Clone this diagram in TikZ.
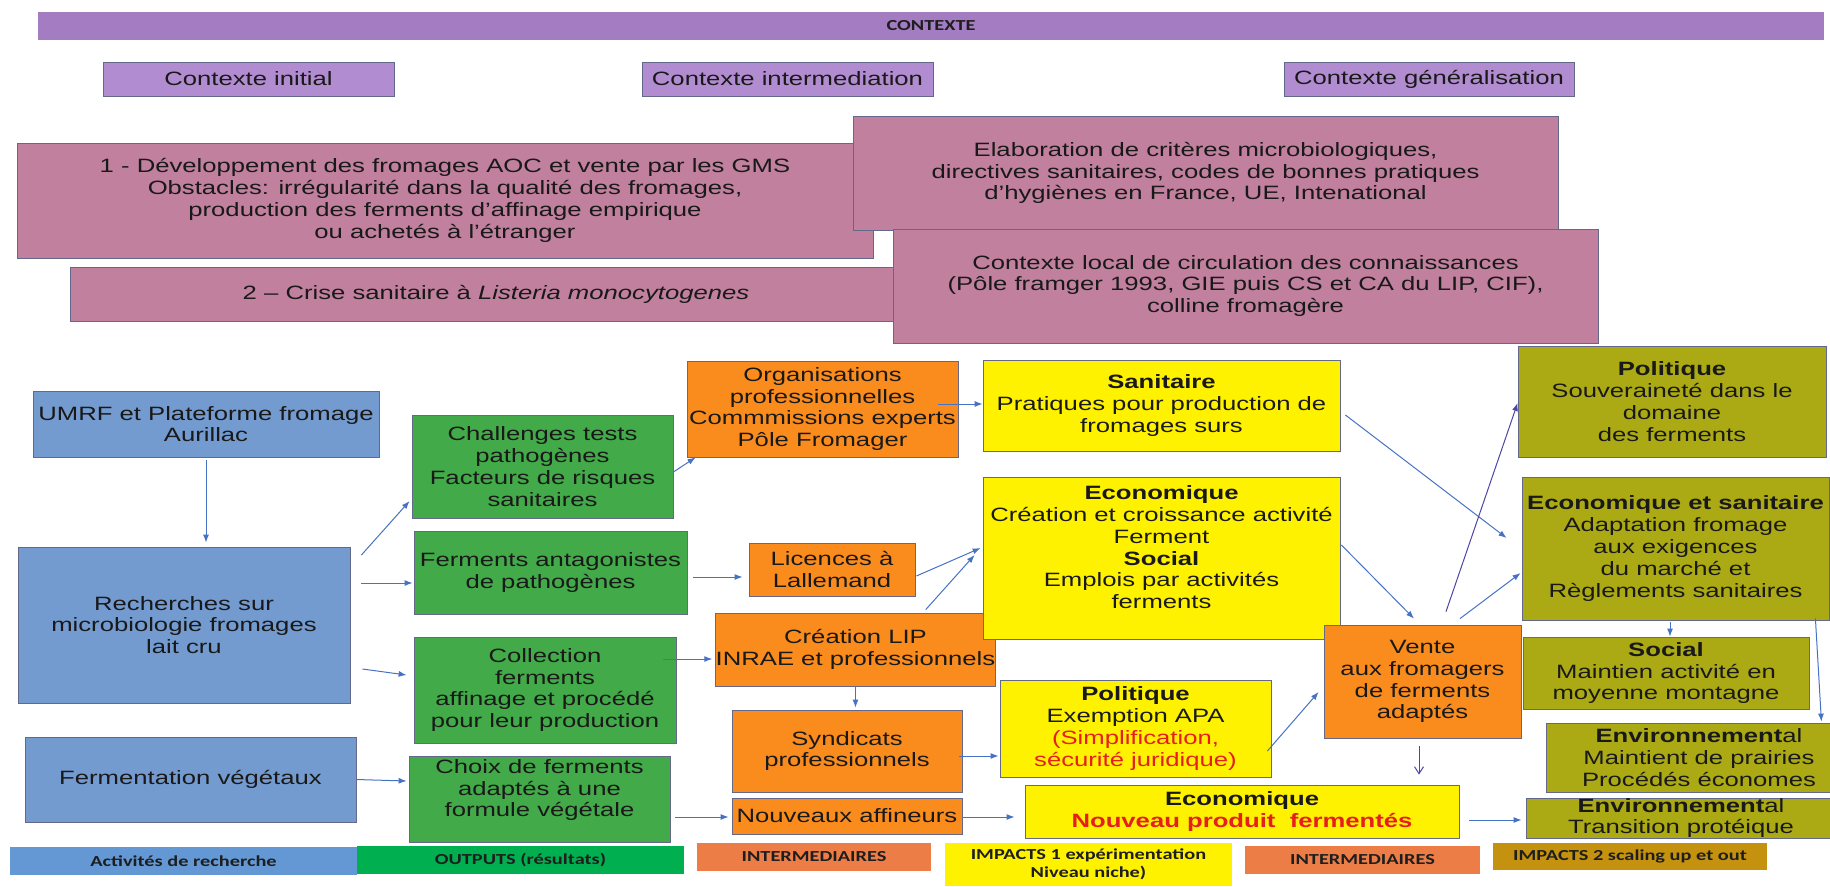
\documentclass[tikz,border=0pt]{standalone}
\usepackage{fontspec}
\setmainfont{Liberation Sans}[FakeStretch=1.33]
\newfontfamily\legfont{Carlito}[FakeStretch=1.33]
\usetikzlibrary{arrows.meta}

\definecolor{barviolet}{RGB}{163,124,194}
\definecolor{ctxviolet}{RGB}{178,140,208}
\definecolor{ctxpink}{RGB}{192,128,158}
\definecolor{boxline}{RGB}{100,105,140}
\definecolor{rechblue}{RGB}{115,155,208}
\definecolor{outgreen}{RGB}{66,170,72}
\definecolor{intorange}{RGB}{250,140,30}
\definecolor{impolive}{RGB}{171,170,20}
\definecolor{legblue}{RGB}{100,152,212}
\definecolor{leggreen}{RGB}{0,176,80}
\definecolor{legorange}{RGB}{237,125,70}
\definecolor{legbrown}{RGB}{196,146,14}
\definecolor{arrowblue}{RGB}{70,114,196}
\definecolor{arrowdark}{RGB}{75,70,165}
\definecolor{textred}{RGB}{230,30,30}

\begin{document}
\begin{tikzpicture}[x=1pt, y=-1pt,
    sz/.style 2 args={minimum width=#1pt, minimum height=#2pt},
    box/.style={draw=boxline, line width=0.8pt, align=center, inner sep=0pt,
      text={rgb,255:red,25;green,25;blue,25}, font=\fontsize{19.3}{21.8}\selectfont},
    ctx/.style={box, fill=ctxviolet},
    ctxbox/.style={box, fill=ctxpink},
    recherche/.style={box, fill=rechblue},
    output/.style={box, fill=outgreen},
    interm/.style={box, fill=intorange},
    impact1/.style={box, fill=yellow},
    impact2/.style={box, fill=impolive},
    legend/.style={align=center, inner sep=0pt, text={rgb,255:red,30;green,30;blue,30},
      font=\legfont\bfseries\fontsize{15.3}{18}\selectfont},
    arr/.style={-{Latex[length=8pt,width=6pt]}, draw=arrowblue, line width=1pt},
    arrdark/.style={arr, draw=arrowdark},
    barb/.style={-{Straight Barb[length=7pt,width=9pt]}, draw=arrowdark, line width=1pt}]

  \useasboundingbox (0,0) rectangle (1830,886);

  \node[legend, fill=barviolet, sz={1786}{28}] (contexte) at (931,26) {CONTEXTE};
  \node[ctx, sz={291}{34}] (initial) at (248.5,79) {Contexte initial};
  \node[ctx, sz={291}{34}] (intermed) at (787.5,79) {Contexte intermediation};
  \node[ctx, sz={290}{34}] (general) at (1429,79) {Contexte généralisation};

  \node[ctxbox, sz={856}{115}] (aoc) at (445,200.5) {1 - Développement des fromages AOC et vente par les GMS\\Obstacles: irrégularité dans la qualité des fromages,\\production des ferments d’affinage empirique\\ou achetés à l’étranger};
  \node[ctxbox, sz={852}{54}] (crise) at (496,294) {2 – Crise sanitaire à \textit{Listeria monocytogenes}};
  \node[ctxbox, sz={705}{114}] (criteres) at (1205.5,173) {Elaboration de critères microbiologiques,\\directives sanitaires, codes de bonnes pratiques\\d’hygiènes en France, UE, Intenational};
  \node[ctxbox, sz={705}{114}] (local) at (1245.5,286) {Contexte local de circulation des connaissances\\(Pôle framger 1993, GIE puis CS et CA du LIP, CIF),\\colline fromagère};

  \node[recherche, sz={346}{66}] (umrf) at (206,424) {UMRF et Plateforme fromage\\Aurillac};
  \node[recherche, sz={332}{156}] (microbio) at (184,625) {Recherches sur\\microbiologie fromages\\lait cru};
  \node[recherche, sz={331}{85}] (vegetaux) at (190.5,779.5) {Fermentation végétaux};

  \node[output, sz={261}{103}] (challenges) at (542.5,466.5) {Challenges tests\\pathogènes\\Facteurs de risques\\sanitaires};
  \node[output, sz={273}{83}] (antago) at (550.5,572.5) {Ferments antagonistes\\de pathogènes};
  \node[output, sz={262}{106}] (collection) at (545,690) {Collection\\ferments\\affinage et procédé\\pour leur production};
  \node[output, sz={261}{86}] (choix) at (539.5,799) {Choix de ferments\\adaptés à une\\formule végétale\\\mbox{}};

  \node[interm, sz={271}{96}] (orga) at (822.5,409) {Organisations\\professionnelles\\Commmissions experts\\Pôle Fromager};
  \node[interm, sz={166}{53}] (licences) at (832,569.5) {Licences à\\Lallemand};
  \node[interm, sz={277}{73}] (lip) at (855.5,649.5) {Création LIP\\INRAE et professionnels};
  \node[interm, sz={230}{82}] (syndicats) at (847,751) {Syndicats\\professionnels};
  \node[interm, sz={230}{36}] (affineurs) at (847,816) {Nouveaux affineurs};

  \node[impact1, sz={357}{91}] (sanitaire) at (1161.5,405.5) {\textbf{Sanitaire}\\Pratiques pour production de\\fromages surs};
  \node[impact1, sz={357}{162}] (economique) at (1161.5,558) {\textbf{Economique}\\Création et croissance activité\\Ferment\\\textbf{Social}\\Emplois par activités\\ferments\\\mbox{}};
  \node[impact1, sz={271}{97}] (politique) at (1135.5,728.5) {\textbf{Politique}\\Exemption APA\\\textcolor{textred}{(Simplification,}\\\textcolor{textred}{sécurité juridique)}};
  \node[impact1, sz={434}{53}] (nouveau) at (1242,811.5) {\textbf{Economique}\\\textcolor{textred}{\textbf{Nouveau produit\ \ fermentés}}};
  \node[interm, sz={197}{113}] (vente) at (1422.5,681.5) {Vente\\aux fromagers\\de ferments\\adaptés};

  \node[impact2, sz={308}{111}] (souverain) at (1672,401.5) {\textbf{Politique}\\Souveraineté dans le\\domaine\\des ferments};
  \node[impact2, sz={307}{143}] (adaptation) at (1675.5,548.5) {\textbf{Economique et sanitaire}\\Adaptation fromage\\aux exigences\\du marché et\\Règlements sanitaires};
  \node[impact2, sz={286}{72}] (montagne) at (1666,673) {\textbf{Social}\\Maintien activité en\\moyenne montagne};
  \node[impact2, sz={306}{69}] (prairies) at (1699,757.5) {\textbf{Environnement}al\\Maintient de prairies\\Procédés économes};
  \node[impact2, sz={310}{40}] (proteique) at (1681,818) {\textbf{Environnement}al\\Transition protéique};

  \node[legend, fill=legblue, sz={347}{28}] (lgrech) at (183.5,861) {Activités de recherche};
  \node[legend, fill=leggreen, sz={327}{28}] (lgout) at (520.5,860) {OUTPUTS (résultats)};
  \node[legend, fill=legorange, sz={234}{28}] (lginter) at (814,857) {INTERMEDIAIRES};
  \node[legend, fill=yellow, sz={287}{43}] (lgimpact) at (1088.5,864.5) {IMPACTS 1 expérimentation\\Niveau niche)};
  \node[legend, fill=legorange, sz={235}{28}] (lginterb) at (1362.5,860) {INTERMEDIAIRES};
  \node[legend, fill=legbrown, sz={274}{27}] (lgscaling) at (1630,856.5) {IMPACTS 2 scaling up et out};

  \draw[arr, shorten <=3pt, shorten >=4pt] (umrf.south) -- (umrf.south |- microbio.north);
  \draw[arr] ([shift={(11,-70)}]microbio.east) -- ([shift={(-2,34.5)}]challenges.west);
  \draw[arr] ([shift={(11,-42)}]microbio.east) -- ([shift={(-1,10.5)}]antago.west);
  \draw[arr] ([shift={(12,44)}]microbio.east) -- ([shift={(-7,-15)}]collection.west);
  \draw[arr] (vegetaux.east) -- ([shift={(-2,-18)}]choix.west);
  \draw[arr] ([shift={(0,5.5)}]challenges.east) -- ([shift={(9,0)}]orga.south west);
  \draw[arr] ([shift={(6,4.5)}]antago.east) -- ([shift={(-6,7.5)}]licences.west);
  \draw[arr] ([shift={(-13,-31)}]collection.east) -- ([shift={(-3,9.5)}]lip.west);
  \draw[arr] ([shift={(5,18)}]choix.east) -- ([shift={(-3,1)}]affineurs.west);
  \draw[arr] ([shift={(-20,-5)}]orga.east) -- ([shift={(0,-1.5)}]sanitaire.west);
  \draw[arr] ([shift={(1,6.5)}]licences.east) -- ([shift={(-2,-10)}]economique.west);
  \draw[arr] ([shift={(-70,-3)}]lip.north east) -- ([shift={(-8,-3)}]economique.west);
  \draw[arr, shorten <=1pt, shorten >=2pt] (lip.south) -- (lip.south |- syndicats.north);
  \draw[arr] ([shift={(-3,5)}]syndicats.east) -- ([shift={(-1,27.5)}]politique.west);
  \draw[arr] ([shift={(0,1)}]affineurs.east) -- ([shift={(-10,5.5)}]nouveau.west);
  \draw[arr] ([shift={(-4,22.5)}]politique.east) -- ([shift={(-5,10.5)}]vente.west);
  \draw[arr] ([shift={(5,9.5)}]sanitaire.east) -- ([shift={(-15,-10.5)}]adaptation.west);
  \draw[arr] ([shift={(1,-13)}]economique.east) -- ([shift={(-8.5,-6)}]vente.north);
  \draw[arrdark] ([shift={(23.5,-13)}]vente.north) -- ([shift={(0,1.5)}]souverain.west);
  \draw[arr] ([shift={(37.5,-6)}]vente.north) -- ([shift={(-1,24.5)}]adaptation.west);
  \draw[barb] ([shift={(-3.5,8)}]vente.south) -- ([shift={(177,-10)}]nouveau.north);
  \draw[arr] ([shift={(-5.5,2)}]adaptation.south) -- ([shift={(4,0)}]montagne.north);
  \draw[arr] ([shift={(-14,-2)}]adaptation.south east) -- ([shift={(-31,-1)}]prairies.north east);
  \draw[arr] ([shift={(10,8.5)}]nouveau.east) -- ([shift={(-4,2)}]proteique.west);
\end{tikzpicture}
\end{document}
